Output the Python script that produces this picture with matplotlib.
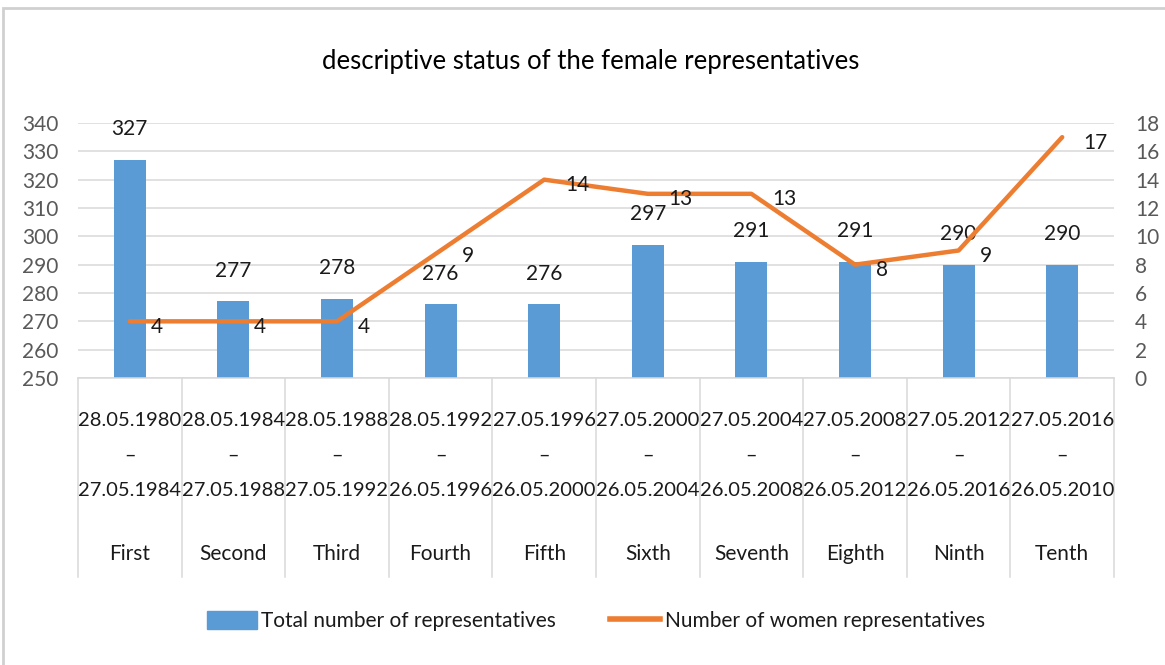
import matplotlib
matplotlib.use("Agg")
import matplotlib.pyplot as plt
from matplotlib.patches import Rectangle
from matplotlib.lines import Line2D
from matplotlib.patches import Patch

plt.rcParams['font.family'] = ['Lato', 'DejaVu Sans']

categories = ["First", "Second", "Third", "Fourth", "Fifth",
              "Sixth", "Seventh", "Eighth", "Ninth", "Tenth"]
start_dates = ["28.05.1980", "28.05.1984", "28.05.1988", "28.05.1992", "27.05.1996",
               "27.05.2000", "27.05.2004", "27.05.2008", "27.05.2012", "27.05.2016"]
end_dates = ["27.05.1984", "27.05.1988", "27.05.1992", "26.05.1996", "26.05.2000",
             "26.05.2004", "26.05.2008", "26.05.2012", "26.05.2016", "26.05.2010"]
total_reps = [327, 277, 278, 276, 276, 297, 291, 291, 290, 290]
women_reps = [4, 4, 4, 9, 14, 13, 13, 8, 9, 17]

title = "descriptive status of the female representatives"
bar_label = "Total number of representatives"
line_label = "Number of women representatives"

BLUE = "#5B9BD5"
ORANGE = "#ED7D31"
GRID = "#D9D9D9"
TICK = "#595959"
LBL = "#1A1A1A"
FS = 14.5

W, H = 1165, 665
fig = plt.figure(figsize=(W / 100, H / 100), dpi=100)

# chart frame
fig.patches.append(Rectangle((3 / W, -0.1), 1.2, 1 - 8 / H + 0.1, transform=fig.transFigure,
                             fill=False, edgecolor="#D0D0D0", linewidth=2))

left, right, top, bottom = 78, 1114, 123, 378
ax = fig.add_axes([left / W, 1 - bottom / H, (right - left) / W, (bottom - top) / H])
ax2 = ax.twinx()

x = list(range(len(categories)))
ax.bar(x, total_reps, width=0.31, color=BLUE, zorder=2)
ax.set_ylim(250, 340)
ax.set_xlim(-0.5, len(categories) - 0.5)
ax.set_yticks(range(250, 341, 10))
ax.grid(axis="y", color=GRID, linewidth=1.1, zorder=0)
ax.set_axisbelow(True)
ax.set_xticks([])

ax2.plot(x, women_reps, color=ORANGE, linewidth=3.2, solid_capstyle="round", zorder=3)
ax2.set_ylim(0, 18)
ax2.set_yticks(range(0, 19, 2))

for a in (ax, ax2):
    for s in a.spines.values():
        s.set_visible(False)
    a.tick_params(length=0, labelsize=FS + 0.5, labelcolor=TICK)
ax.tick_params(axis="y", pad=14)
ax2.tick_params(axis="y", pad=15)
ax.spines["bottom"].set_visible(True)
ax.spines["bottom"].set_color(GRID)
ax.spines["bottom"].set_linewidth(1.1)

# data labels
for xi, v in zip(x, total_reps):
    ax.annotate(str(v), (xi, v), xytext=(0, 22), textcoords="offset points",
                ha="center", va="center", fontsize=FS + 0.5, color=LBL, zorder=5)
for xi, v in zip(x, women_reps):
    ax2.annotate(str(v), (xi, v), xytext=(15, -4), textcoords="offset points",
                 ha="left", va="center", fontsize=FS + 0.5, color=LBL, zorder=5)

# category labels
axh = bottom - top
def fy(py):
    return (bottom - py) / axh
trans = ax.get_xaxis_transform()
for xi, s, e, c in zip(x, start_dates, end_dates, categories):
    ax.text(xi, fy(421), s, transform=trans, ha="center", va="center", fontsize=FS, color=LBL)
    ax.text(xi, fy(455), "–", transform=trans, ha="center", va="center", fontsize=FS, color=LBL)
    ax.text(xi, fy(490), e, transform=trans, ha="center", va="center", fontsize=FS, color=LBL)
    ax.text(xi, fy(554), c, transform=trans, ha="center", va="center", fontsize=FS + 0.5, color=LBL)
for b in range(len(categories) + 1):
    ax.plot([b - 0.5, b - 0.5], [0, fy(577)], transform=trans, color=GRID,
            linewidth=1.1, clip_on=False)

fig.text(591 / W, 1 - 62 / H, title, ha="center", va="center", fontsize=18.5, color="#000000")

handles = [Patch(facecolor=BLUE, edgecolor=BLUE),
           Line2D([0], [0], color=ORANGE, linewidth=4)]
fig.legend(handles, [bar_label, line_label], loc="center", bbox_to_anchor=(596 / W, 1 - 621 / H),
           ncol=2, frameon=False, fontsize=FS + 0.5, handlelength=2.4, handleheight=1.0,
           handletextpad=0.2, columnspacing=2.6, labelcolor=LBL)

fig.savefig("out.png", dpi=100)
